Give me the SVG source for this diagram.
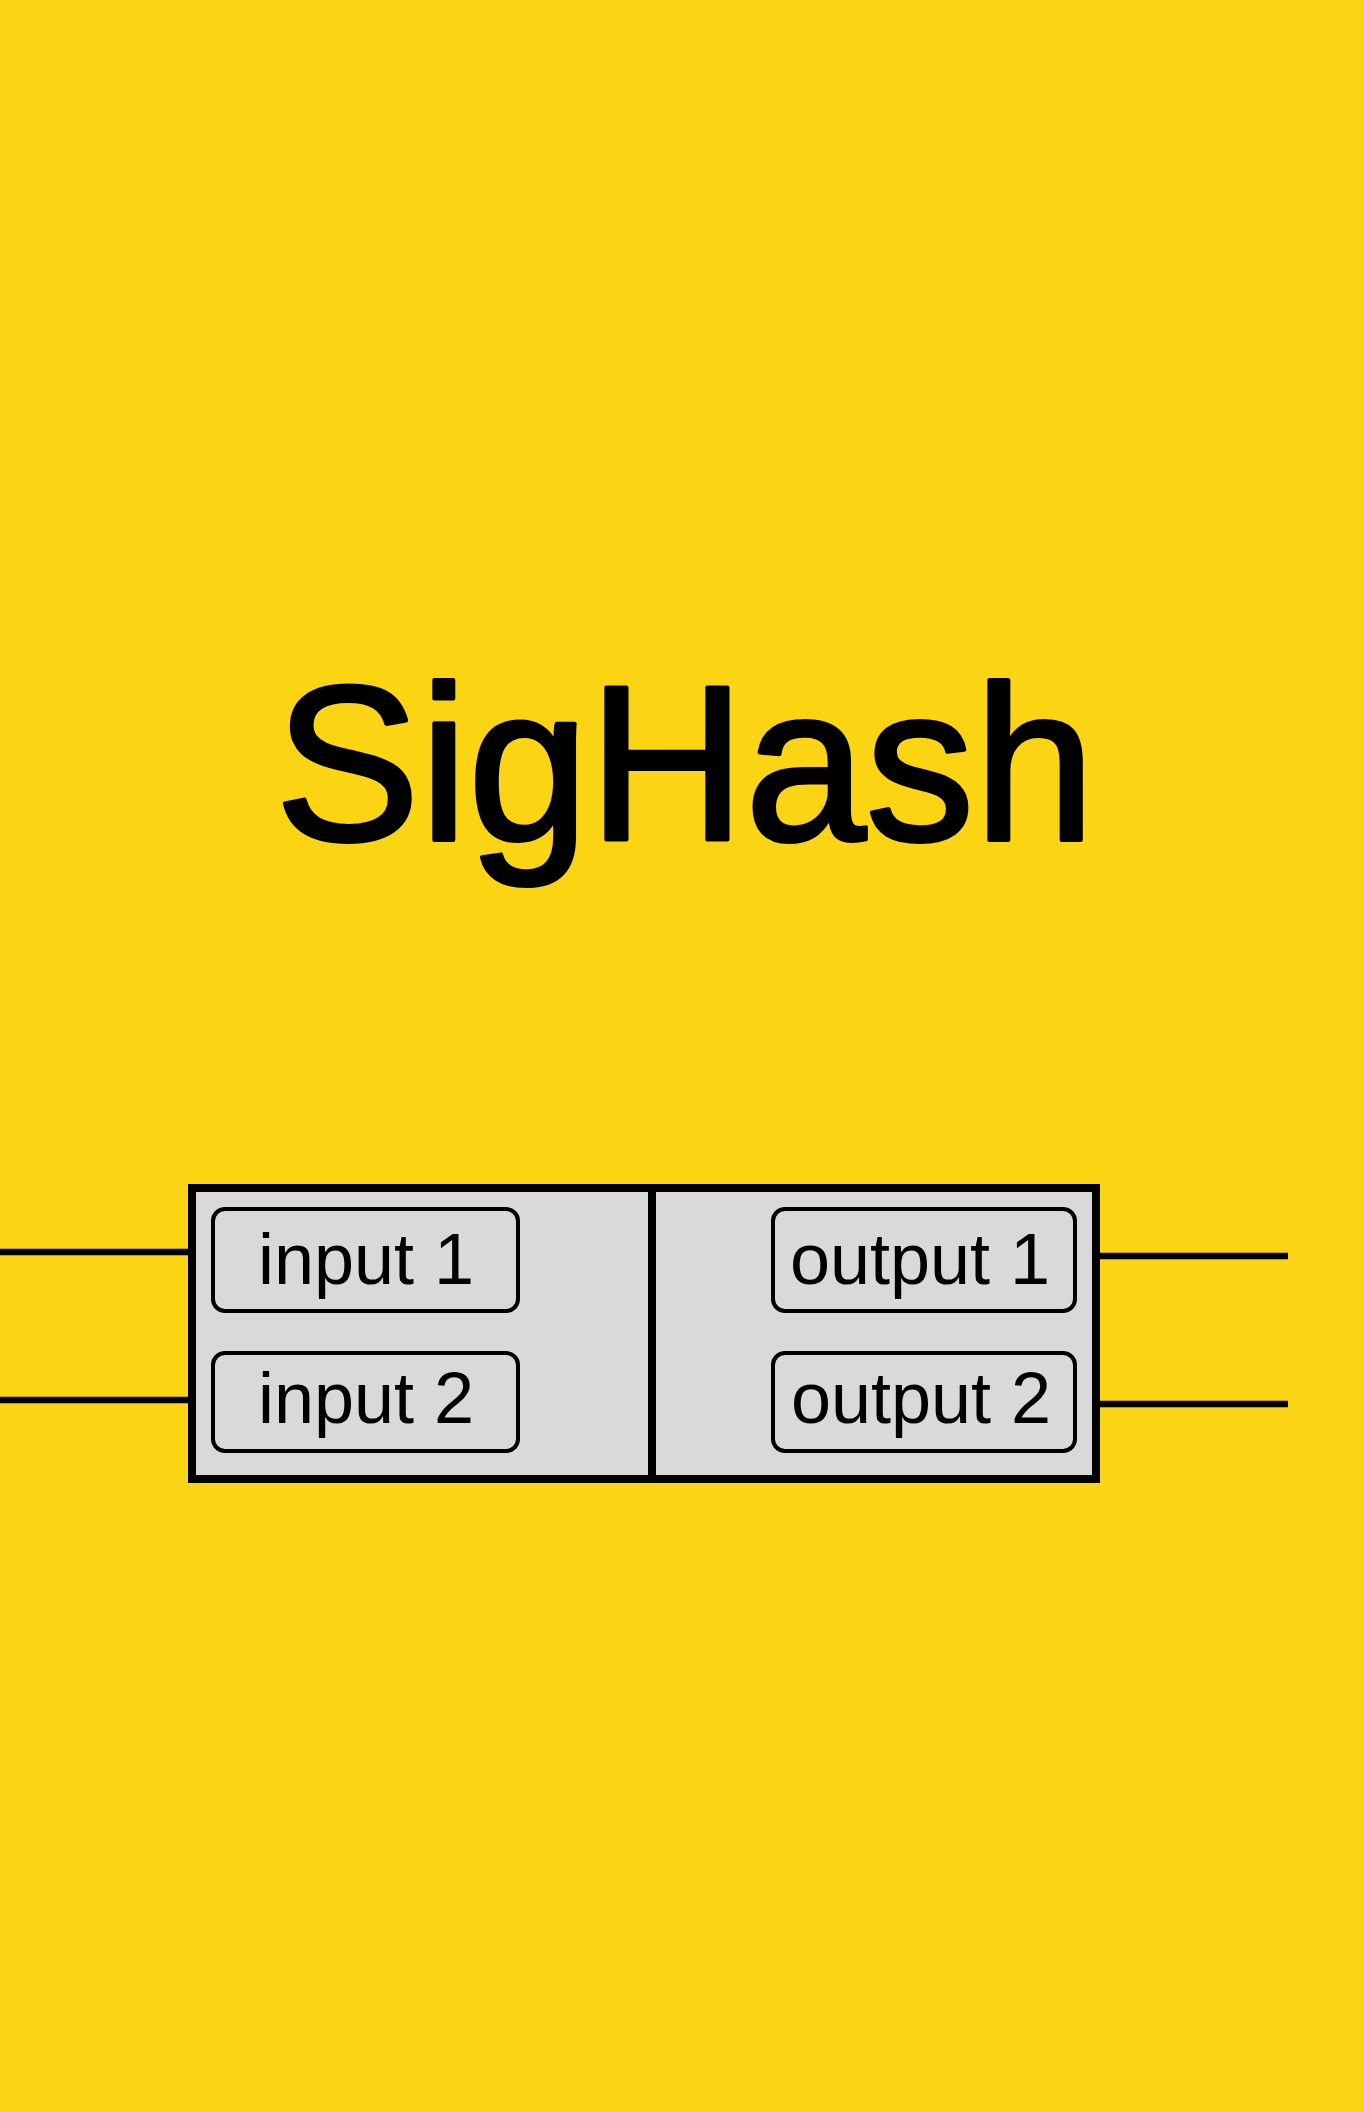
<svg xmlns="http://www.w3.org/2000/svg" width="1364" height="2112" viewBox="0 0 1364 2112">
<style>
.lbl{font-family:"Liberation Sans","DejaVu Sans",sans-serif;font-size:72px;fill:#000;text-anchor:middle}
.port{fill:#d9d9d9;stroke:#000;stroke-width:4}
.wire{stroke:#000;stroke-width:6.5;fill:none}
</style>
<rect x="0" y="0" width="1364" height="2112" fill="#fbd413"/>
<g id="title">
<text x="685" y="840" font-family="'Liberation Sans','DejaVu Sans',sans-serif" font-size="220" text-anchor="middle" textLength="820" lengthAdjust="spacingAndGlyphs" stroke="#000" stroke-width="4" stroke-linejoin="round">SigHash</text>
</g>
<g id="connectors">
<line class="wire" x1="0" y1="1252" x2="190" y2="1252"/>
<line class="wire" x1="0" y1="1400" x2="190" y2="1400"/>
<line class="wire" x1="1098" y1="1256" x2="1288" y2="1256"/>
<line class="wire" x1="1098" y1="1404" x2="1288" y2="1404"/>
</g>
<g id="transaction">
<rect x="192" y="1188" width="904" height="291" fill="#d9d9d9" stroke="#000" stroke-width="8"/>
<line x1="652" y1="1188" x2="652" y2="1479" stroke="#000" stroke-width="8"/>
</g>
<g id="input1">
<rect class="port" x="213" y="1209" width="305" height="102" rx="12"/>
<text class="lbl" x="366" y="1284">input 1</text>
</g>
<g id="input2">
<rect class="port" x="213" y="1353" width="305" height="98" rx="12"/>
<text class="lbl" x="366" y="1423">input 2</text>
</g>
<g id="output1">
<rect class="port" x="773" y="1209" width="302" height="102" rx="12"/>
<text class="lbl" x="920" y="1284">output 1</text>
</g>
<g id="output2">
<rect class="port" x="773" y="1353" width="302" height="98" rx="12"/>
<text class="lbl" x="921" y="1423">output 2</text>
</g>
</svg>
